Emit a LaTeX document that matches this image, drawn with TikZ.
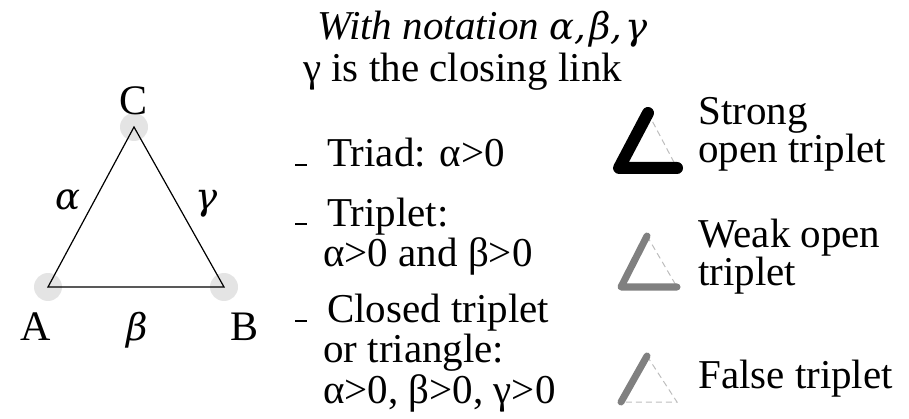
\documentclass[tikz,border=0pt]{standalone}
\usepackage{fontspec}
\setmainfont{Liberation Serif}
\newfontfamily\mgreek{DejaVu Serif}[ItalicFont={DejaVu Serif Italic}]
\newcommand{\mg}[1]{{\mgreek\itshape\fontsize{37}{40}\selectfont #1}}
\definecolor{dotgray}{HTML}{E4E4E4}
\definecolor{midgray}{HTML}{808080}
\definecolor{dashgray}{HTML}{BDBDBD}
\begin{document}
\begin{tikzpicture}[x=1pt,y=-1pt,
  txt/.style={inner sep=0pt,anchor=base west,font=\fontsize{41}{40}\selectfont},
  lbl/.style={inner sep=0pt,anchor=base,font=\fontsize{42}{42}\selectfont},
  vdot/.style={circle,fill=dotgray,minimum size=28pt,inner sep=0pt},
  edge/.style={line width=1.2pt,black},
  bul/.style={line width=2pt,black},
  ghost/.style={line width=1pt,dashgray,dash pattern=on 6pt off 4pt},
  strongline/.style={line width=12pt,black,line cap=round,line join=round},
  weakline/.style={line width=7pt,midgray,line cap=round,line join=round}]
\useasboundingbox (0,0) rectangle (909,419);
% main triangle
\node[vdot] (A) at (48,287) {};
\node[vdot] (B) at (224,287) {};
\node[vdot] (C) at (134,127) {};
\draw[edge] (A.center) -- (C.center) -- (B.center) -- cycle;
\node[lbl] (lC) at (134,115) {C};
\node[lbl] (lA) at (36,340) {A};
\node[lbl] (lB) at (245,340) {B};
\node[lbl] (la) at (68,210) {\mg{α}};
\node[lbl] (lb) at (137,340) {\mg{β}};
\node[lbl] (lg) at (207,210) {\mg{γ}};
% header
\node[txt] (h1) at (317,40) {\itshape With notation \mg{α,\hspace{3pt}β,\hspace{3pt}γ}};
\node[txt] (h2) at (303,82) {γ is the closing link};
% bullets
\coordinate (d1a) at (295,165); \coordinate (d1b) at (307,165);
\coordinate (d2a) at (295,224); \coordinate (d2b) at (307,224);
\coordinate (d3a) at (295,321); \coordinate (d3b) at (307,321);
\draw[bul] (d1a) -- (d1b);
\draw[bul] (d2a) -- (d2b);
\draw[bul] (d3a) -- (d3b);
\node[txt] (t1) at (327,167) {Triad: α>0};
\node[txt] (t2) at (327,227) {Triplet:};
\node[txt] (t3) at (323,267) {α>0 and β>0};
\node[txt] (t4) at (327,322) {Closed triplet};
\node[txt] (t5) at (323,362) {or triangle:};
\node[txt] (t6) at (323,403) {α>0, β>0, γ>0};
% strong open triplet
\coordinate (sT) at (648,113); \coordinate (sL) at (619,168); \coordinate (sR) at (677,168);
\draw[ghost] (sT) -- (sR);
\draw[strongline] (sT) -- (sL) -- (sR);
\node[txt] (s1) at (698,125) {Strong};
\node[txt] (s2) at (698,163) {open triplet};
% weak open triplet
\coordinate (wT) at (647,236); \coordinate (wL) at (621,287); \coordinate (wR) at (677,287);
\draw[ghost] (wT) -- (wR);
\draw[weakline] (wT) -- (wL) -- (wR);
\node[txt] (w1) at (698,248) {Weak open};
\node[txt] (w2) at (698,286) {triplet};
% false triplet
\coordinate (fT) at (647,356); \coordinate (fL) at (621,402); \coordinate (fR) at (677,402);
\draw[ghost] (fT) -- (fR) -- (fL);
\draw[weakline] (fT) -- (fL);
\node[txt] (f1) at (698,388) {False triplet};
\end{tikzpicture}
\end{document}
